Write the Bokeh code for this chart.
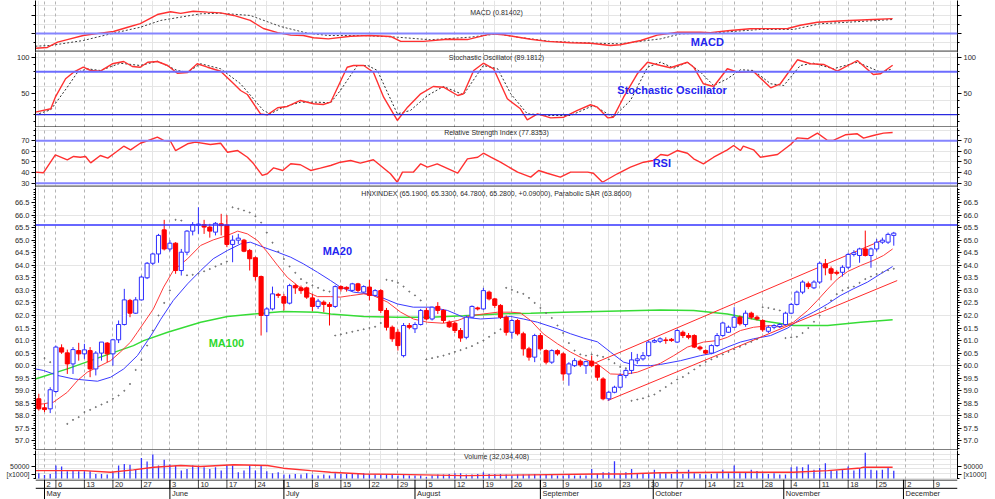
import numpy as np
from bokeh.plotting import figure
from bokeh.models import (Range1d, Span, Label, LinearAxis, FixedTicker, Grid,
                          PrintfTickFormatter, ColumnDataSource)
from bokeh.layouts import column
from bokeh.embed import file_html
from bokeh.resources import INLINE
from bokeh.core.properties import value

# ---------------- data (trading-day index: 0 = 26 Apr 2013 ... 150 = 28 Nov 2013) -------------
week_idx = [1, 3, 8, 13, 18, 23, 28, 33, 38, 43, 48, 53, 58, 63, 68, 73, 78, 83, 88, 92, 97,
            102, 107, 112, 117, 122, 127, 132, 137, 142, 147, 152, 157]
week_labels = ["2", "6", "13", "20", "27", "3", "10", "17", "24", "1", "8", "15", "22", "29",
               "5", "12", "19", "26", "3", "9", "16", "23", "30", "7", "14", "21", "28",
               "4", "11", "18", "25", "2", "9"]
month_idx = [1, 23, 43, 66, 88, 107.8, 130.7, 151.7]
month_labels = ["May", "June", "July", "August", "September", "October", "November", "December"]

opens = [58.68, 58.32, 58.28, 58.97, 60.71, 60.51, 60.07, 60.60, 60.47, 60.60,
         59.87, 60.50, 60.90, 60.47, 61.03, 61.64, 62.60, 62.09, 62.62, 63.50,
         64.08, 64.45, 65.41, 64.65, 64.88, 63.79, 64.52, 65.36, 65.60, 65.62,
         65.52, 65.32, 65.65, 65.60, 64.83, 65.00, 65.00, 64.59, 64.30, 63.55,
         62.00, 62.26, 62.84, 62.75, 62.49, 63.19, 63.10, 63.10, 62.70, 62.36,
         62.53, 62.44, 62.36, 63.15, 63.12, 63.00, 63.26, 62.93, 63.13, 62.80,
         62.99, 62.20, 61.53, 61.33, 60.40, 61.60, 61.47, 61.64, 62.20, 61.86,
         62.36, 62.20, 61.73, 61.69, 61.40, 61.13, 61.93, 62.30, 62.26, 62.93,
         62.66, 62.40, 61.93, 61.33, 61.80, 61.27, 60.67, 60.34, 61.20, 60.60,
         60.14, 60.60, 60.47, 59.67, 60.00, 60.18, 60.00, 60.18, 60.00, 59.47,
         58.68, 58.94, 59.14, 59.61, 59.81, 60.20, 60.27, 60.40, 60.94, 60.97,
         61.02, 61.05, 60.94, 61.33, 61.20, 61.20, 60.74, 60.60, 60.50, 60.80,
         61.20, 61.33, 61.53, 61.93, 61.64, 62.09, 61.93, 61.80, 61.37, 61.53,
         61.56, 61.64, 62.09, 62.44, 62.93, 63.26, 63.10, 63.33, 64.06, 63.86,
         63.72, 63.72, 63.92, 64.43, 64.39, 64.65, 64.39, 64.65, 64.92, 64.92, 65.19]
highs = [58.88, 58.48, 59.14, 60.80, 60.85, 60.64, 60.74, 60.91, 60.87, 60.74,
         60.58, 60.94, 60.94, 61.07, 61.80, 63.06, 62.66, 62.73, 63.59, 64.13,
         64.50, 65.25, 65.81, 65.00, 64.92, 64.65, 65.40, 65.72, 66.31, 65.81,
         65.65, 65.72, 66.05, 66.00, 65.19, 65.25, 65.05, 64.65, 64.35, 63.59,
         62.33, 63.15, 62.90, 62.86, 63.26, 63.26, 63.19, 63.15, 62.86, 62.66,
         62.60, 62.53, 63.20, 63.20, 63.16, 63.30, 63.30, 63.20, 63.42, 63.05,
         63.05, 62.30, 61.60, 61.45, 61.70, 61.70, 61.73, 62.26, 62.30, 62.36,
         62.53, 62.25, 61.80, 61.75, 61.50, 62.00, 62.40, 62.35, 63.10, 62.99,
         62.70, 62.45, 62.00, 61.87, 61.86, 61.35, 60.75, 61.27, 61.30, 60.65,
         60.65, 60.65, 60.53, 60.14, 60.30, 60.25, 60.20, 60.40, 60.05, 59.54,
         59.00, 59.20, 59.70, 59.87, 60.54, 60.47, 60.54, 61.00, 61.07, 61.13,
         61.13, 61.10, 61.45, 61.40, 61.30, 61.25, 60.80, 60.65, 60.85, 61.30,
         61.75, 61.60, 62.33, 62.00, 62.20, 62.15, 62.00, 61.85, 61.60, 61.65,
         61.70, 62.15, 62.50, 62.99, 63.40, 63.35, 63.40, 64.15, 64.25, 63.95,
         63.80, 64.00, 64.50, 64.60, 64.70, 65.38, 64.70, 65.05, 65.10, 65.30, 65.33]
lows = [58.21, 58.15, 58.11, 58.90, 60.47, 59.67, 59.67, 60.20, 60.27, 59.54,
        59.61, 60.20, 60.14, 60.00, 60.90, 61.60, 61.93, 62.06, 62.60, 63.45,
        64.00, 64.10, 64.59, 64.55, 63.66, 63.59, 64.40, 65.19, 65.25, 65.25,
        65.10, 65.19, 65.19, 64.72, 64.12, 64.85, 64.52, 63.79, 63.39, 61.20,
        61.33, 62.20, 62.70, 62.20, 62.44, 62.86, 62.86, 62.66, 62.17, 62.26,
        62.13, 61.60, 62.30, 62.95, 62.95, 62.95, 62.93, 62.90, 62.60, 62.75,
        62.10, 61.40, 60.95, 60.60, 60.33, 61.45, 61.30, 61.60, 61.80, 61.80,
        62.06, 61.70, 61.50, 61.30, 60.95, 61.05, 61.90, 62.20, 62.22, 62.60,
        62.30, 61.86, 61.20, 61.07, 61.20, 60.40, 60.20, 60.14, 60.60, 60.05,
        60.07, 60.40, 59.40, 59.20, 59.95, 59.95, 59.67, 59.94, 59.40, 58.62,
        58.60, 58.90, 59.10, 59.50, 59.67, 60.07, 60.20, 60.35, 60.90, 60.90,
        60.87, 60.95, 60.90, 61.10, 61.05, 60.70, 60.60, 60.45, 60.45, 60.75,
        61.15, 61.30, 61.50, 61.60, 61.55, 61.85, 61.80, 61.35, 61.30, 61.45,
        61.50, 61.60, 62.05, 62.40, 62.85, 63.05, 63.05, 63.25, 63.60, 63.40,
        63.60, 63.55, 63.85, 64.35, 64.10, 64.35, 63.90, 64.55, 64.85, 64.85, 64.78]
closes = [58.28, 58.25, 59.04, 60.74, 60.54, 60.07, 60.64, 60.47, 60.63, 59.87,
          60.50, 60.94, 60.47, 61.03, 61.64, 62.62, 62.09, 62.62, 63.53, 64.08,
          64.45, 65.19, 64.65, 64.88, 63.79, 64.52, 65.36, 65.62, 65.64, 65.52,
          65.36, 65.67, 65.58, 64.83, 65.00, 65.08, 64.56, 64.26, 63.55, 62.00,
          62.26, 62.86, 62.80, 62.49, 63.19, 63.10, 62.99, 62.73, 62.36, 62.57,
          62.44, 62.36, 63.15, 63.06, 63.06, 63.26, 63.00, 63.15, 62.80, 62.99,
          62.20, 61.53, 61.07, 60.80, 61.60, 61.53, 61.64, 62.20, 61.86, 62.33,
          62.20, 61.80, 61.55, 61.40, 61.10, 61.93, 62.36, 62.26, 62.99, 62.66,
          62.40, 61.93, 61.33, 61.80, 61.27, 60.67, 60.34, 61.20, 60.67, 60.14,
          60.60, 60.47, 59.67, 60.07, 60.20, 60.03, 60.16, 60.00, 59.54, 58.68,
          58.94, 59.14, 59.61, 59.81, 60.23, 60.27, 60.40, 60.94, 61.00, 61.07,
          61.00, 61.00, 61.40, 61.20, 61.13, 60.74, 60.67, 60.50, 60.80, 61.20,
          61.70, 61.53, 61.93, 61.67, 62.09, 61.93, 61.86, 61.43, 61.53, 61.60,
          61.64, 62.09, 62.44, 62.93, 63.33, 63.15, 63.33, 64.08, 63.90, 63.68,
          63.68, 63.92, 64.43, 64.50, 64.65, 64.39, 64.65, 64.92, 65.00, 65.23, 65.28]
# volume in thousands of shares
volume = [22000, 15000, 19000, 54000, 50000, 30000, 33000, 30000, 30000, 30000,
          19000, 19000, 17000, 26000, 54000, 60000, 57000, 36000, 85000, 71000,
          100000, 54000, 78000, 58000, 54000, 33000, 40000, 54000, 50000, 47000,
          40000, 47000, 33000, 54000, 54000, 26000, 33000, 54000, 33000, 54000,
          30000, 22000, 26000, 17000, 17000, 19000, 17000, 22000, 17000, 12000,
          17000, 12000, 22000, 19000, 19000, 19000, 19000, 22000, 19000, 17000,
          17000, 17000, 17000, 12000, 17000, 12000, 12000, 12000, 6000, 12000,
          17000, 17000, 19000, 22000, 22000, 17000, 17000, 19000, 26000, 19000,
          19000, 19000, 17000, 12000, 17000, 17000, 17000, 19000, 17000, 17000,
          17000, 12000, 12000, 17000, 12000, 12000, 12000, 40000, 19000, 26000,
          26000, 72000, 19000, 26000, 40000, 22000, 19000, 19000, 36000, 22000,
          22000, 19000, 36000, 19000, 36000, 22000, 19000, 17000, 19000, 22000,
          36000, 22000, 54000, 22000, 26000, 36000, 31000, 22000, 19000, 22000,
          17000, 17000, 47000, 50000, 47000, 58000, 36000, 44000, 64000, 33000,
          33000, 36000, 50000, 33000, 44000, 107000, 36000, 33000, 36000, 47000, 32034]

vol_ma_i = [-0.6, 7.9, 12.6, 16.6, 20.2, 24.9, 28.4, 34.2, 40.1, 42.9, 47.7, 51.2, 57.0,
            62.9, 74.5, 86.3, 98.0, 102.6, 109.1, 120.8, 132.4, 138.4, 144.2, 144.7, 149.8]
vol_ma_v = [33000, 33000, 26000, 36000, 47000, 54000, 50000, 57000, 54000, 43000, 33000,
            26000, 19000, 17000, 12000, 15000, 19000, 19000, 24000, 26000, 26000, 33000,
            44000, 47000, 47000]

ma10_i = [-0.6, 0.8, 2.6, 5.0, 6.8, 8.5, 10.3, 12.6, 14.3, 16.1, 17.3, 20.1, 21.9, 23.6, 26.1,
          28.4, 30.6, 33.1, 34.9, 36.6, 38.4, 40.1, 41.9, 43.6, 45.4, 47.1, 48.9, 51.2, 52.9,
          54.7, 57.0, 58.7, 61.2, 63.5, 65.7, 68.2, 71.0, 73.5, 75.7, 78.0, 80.5, 82.8, 84.5,
          86.3, 88.5, 91.0, 93.3, 95.6, 98.0, 100.3, 102.6, 105.0, 107.3, 109.1, 111.4, 113.8,
          116.6, 119.1, 120.8, 123.1, 125.4, 128.4, 130.1, 132.4, 134.9, 136.6, 138.4, 140.1,
          141.9, 144.2, 146.4, 148.2, 149.8]
ma10_v = [58.45, 58.48, 58.55, 58.94, 59.41, 59.74, 59.94, 60.20, 60.54, 60.94, 61.33, 62.26,
          63.13, 63.79, 64.26, 64.79, 65.01, 65.19, 65.36, 65.25, 64.98, 64.52, 63.99, 63.52,
          63.19, 62.93, 62.75, 62.75, 62.73, 62.79, 62.86, 62.79, 62.53, 62.13, 61.86, 61.73,
          61.69, 61.80, 61.99, 62.06, 62.13, 62.13, 62.10, 61.80, 61.27, 60.87, 60.54, 60.27,
          60.07, 59.67, 59.65, 59.74, 59.94, 60.10, 60.40, 60.74, 60.94, 61.00, 61.13, 61.40,
          61.53, 61.60, 61.53, 61.73, 62.20, 62.60, 63.05, 63.45, 63.75, 63.99, 64.19, 64.39,
          64.65]

ma20_i = [-0.6, 0.8, 3.3, 6.1, 10.3, 12.6, 14.9, 17.3, 19.1, 20.1, 21.4, 23.6, 26.1, 28.4,
          30.6, 33.1, 35.4, 37.1, 39.4, 41.9, 44.2, 46.4, 48.9, 51.2, 52.9, 55.2, 57.7, 60.0,
          62.9, 65.7, 68.7, 71.7, 74.5, 77.5, 80.5, 82.8, 85.0, 87.5, 91.0, 93.3, 95.6, 98.0,
          100.3, 102.6, 105.0, 107.3, 109.1, 112.6, 116.1, 118.4, 120.8, 123.1, 125.4, 128.4,
          131.4, 133.6, 135.9, 138.4, 140.6, 142.9, 145.4, 147.7, 149.8]
ma20_v = [59.87, 59.81, 59.61, 59.47, 59.38, 59.54, 59.87, 60.40, 61.00, 61.35, 61.85, 62.60,
          63.26, 63.79, 64.26, 64.59, 64.85, 64.92, 64.72, 64.52, 64.32, 64.06, 63.72, 63.39,
          63.13, 62.93, 62.86, 62.73, 62.46, 62.33, 62.33, 62.20, 61.93, 61.86, 61.90, 61.96,
          61.86, 61.73, 61.47, 61.27, 61.10, 60.95, 60.54, 60.14, 60.00, 60.00, 60.05, 60.20,
          60.40, 60.50, 60.74, 60.94, 61.07, 61.20, 61.50, 61.86, 62.13, 62.46, 62.79, 63.06,
          63.33, 63.66, 63.95]

ma100_i = [-0.6, 5.0, 10.8, 16.6, 18.4, 22.6, 28.4, 33.1, 37.7, 42.9, 48.9, 51.2, 57.0, 62.9,
           68.7, 74.5, 80.5, 86.3, 92.1, 98.0, 109.1, 114.9, 120.8, 126.6, 132.4, 138.4, 144.2,
           149.8]
ma100_v = [59.47, 59.87, 60.34, 60.80, 61.00, 61.33, 61.73, 61.96, 62.06, 62.16, 62.13, 62.06,
           61.96, 61.93, 61.93, 61.99, 62.06, 62.09, 62.13, 62.16, 62.22, 62.20, 62.06, 61.80,
           61.60, 61.60, 61.73, 61.83]

sar_i = [1, 2, 5, 6, 7, 8, 9, 10, 11, 12, 13, 14, 15, 16, 17, 18, 19, 20, 21, 22, 23, 24, 25,
         26, 27, 28, 29, 30, 31, 32, 33, 34, 35, 36, 37, 38, 39, 40, 41, 42, 43, 44, 45, 46, 47,
         48, 49, 50, 51, 52, 53, 54, 55, 56, 57, 58, 59, 60, 61, 62, 63, 64, 65, 66, 67, 68, 69,
         70, 71, 72, 73, 74, 75, 76, 77, 78, 79, 80, 81, 82, 83, 84, 85, 86, 87, 88, 89, 90, 91,
         92, 93, 94, 95, 96, 97, 98, 99, 100, 101, 102, 103, 104, 105, 106, 107, 108, 109, 110,
         111, 112, 113, 114, 115, 116, 117, 118, 119, 120, 121, 122, 123, 124, 125, 126, 127,
         128, 129, 130, 131, 132, 133, 134, 135, 136, 137, 138, 139, 140, 141, 142, 143, 144,
         145, 146, 147, 148, 149, 150]
sar_v = [60.30, 60.14, 57.68, 57.84, 57.95, 58.15, 58.24, 58.35, 58.45, 58.55, 58.68, 58.81,
         59.00, 59.27, 59.83, 60.23, 60.80, 61.40, 62.00, 62.50, 63.00, 65.81, 65.78, 63.60,
         63.62, 63.67, 63.76, 63.85, 63.95, 64.05, 64.15, 66.31, 66.25, 66.18, 66.10, 65.95,
         65.70, 65.30, 64.90, 64.55, 64.25, 63.95, 63.70, 63.45, 63.30, 63.20, 63.10, 63.00,
         62.95, 61.20, 61.25, 61.30, 61.35, 61.40, 61.45, 61.50, 61.55, 61.70, 63.42, 63.38,
         63.30, 63.15, 62.95, 62.80, 62.60, 60.25, 60.30, 60.35, 60.40, 60.47, 60.55, 60.62,
         60.70, 60.78, 60.90, 61.00, 61.15, 61.30, 61.45, 63.10, 63.02, 62.93, 62.86, 62.70,
         62.50, 62.30, 62.10, 61.90, 61.60, 61.30, 60.90, 60.60, 60.45, 60.40, 60.45, 60.40,
         60.35, 60.25, 60.10, 59.95, 59.90, 58.60, 58.65, 58.70, 58.78, 58.85, 59.00, 59.15,
         59.30, 59.45, 59.55, 59.70, 59.85, 60.00, 60.15, 60.25, 60.35, 60.45, 60.55, 60.65,
         60.75, 60.85, 60.95, 61.05, 62.33, 62.30, 62.25, 62.20, 61.10, 61.13, 61.15, 61.30,
         61.50, 61.75, 62.00, 62.30, 62.60, 62.85, 63.00, 63.10, 63.15, 63.30, 63.45, 63.55,
         63.65, 63.72, 63.80, 63.86]

chan_up_i = [97.5, 148.0]
chan_up_v = [60.10, 65.00]
chan_lo_i = [99.8, 150.6]
chan_lo_v = [58.61, 63.39]
resistance_level = 65.6

macd_i = [-0.6, 1.5, 3.3, 5.0, 7.8, 10.8, 13.1, 15.6, 17.8, 20.8, 23.1, 24.9, 27.1, 29.6, 31.9,
          34.2, 37.1, 39.4, 41.9, 44.2, 46.4, 48.2, 50.8, 54.7, 58.2, 61.7, 63.5, 67.5, 71.7,
          75.2, 79.3, 81.5, 86.3, 89.2, 93.3, 96.8, 100.3, 102.0, 105.6, 108.5, 112.1, 116.1,
          117.8, 121.3, 124.8, 131.4, 133.6, 136.6, 141.2, 146.4, 149.8]
macd_v = [-0.80, -0.76, -0.47, -0.33, -0.11, 0.02, 0.11, 0.34, 0.54, 1.03, 1.18, 1.09, 1.21,
          1.16, 1.12, 0.98, 0.71, 0.27, 0.05, -0.09, -0.11, -0.23, -0.29, -0.15, -0.11, -0.16,
          -0.43, -0.43, -0.31, -0.33, -0.02, -0.07, -0.31, -0.43, -0.50, -0.53, -0.65, -0.61,
          -0.38, -0.09, 0.07, 0.07, 0.05, 0.16, 0.26, 0.27, 0.45, 0.61, 0.69, 0.76, 0.81]
signal_i = [-0.6, 2.1, 7.8, 12.6, 17.8, 21.4, 28.4, 31.9, 37.1, 42.4, 47.1, 50.8, 57.0, 62.9,
            68.7, 75.7, 80.5, 84.0, 89.8, 98.0, 102.0, 109.1, 112.6, 117.8, 126.6, 132.4,
            137.1, 141.9, 149.8]
signal_v = [-0.69, -0.65, -0.38, -0.02, 0.34, 0.71, 1.07, 1.10, 0.98, 0.38, 0.02, -0.11, -0.11,
            -0.20, -0.34, -0.20, -0.02, -0.20, -0.43, -0.53, -0.56, -0.29, -0.02, 0.02, 0.22,
            0.22, 0.53, 0.61, 0.76]

stk_i = [-0.6, 2.1, 2.9, 4.7, 6.1, 7.8, 9.1, 10.8, 12.9, 14.9, 16.4, 17.8, 19.1, 20.8, 22.6,
         24.3, 26.1, 27.8, 29.6, 31.9, 34.2, 35.4, 36.6, 38.9, 40.1, 41.9, 43.6, 45.9, 48.2,
         49.9, 51.2, 54.1, 55.2, 57.0, 58.7, 60.5, 62.9, 64.7, 67.0, 69.2, 71.0, 73.5, 74.5,
         76.3, 78.0, 79.8, 82.2, 84.5, 85.7, 87.5, 89.8, 92.1, 94.5, 96.8, 98.0, 99.8, 100.8,
         102.6, 105.0, 106.8, 109.1, 110.8, 113.8, 114.9, 116.6, 118.4, 120.8, 122.6, 125.4,
         128.4, 130.1, 133.1, 135.4, 137.7, 140.1, 143.6, 146.4, 147.7, 149.8]
stk_v = [23.4, 28.2, 44.4, 70.2, 79.4, 86.4, 81.8, 80.8, 91.2, 94.4, 87.4, 86.4, 93.4, 94.4,
         88.8, 78.0, 79.0, 91.2, 86.4, 80.8, 63.2, 53.8, 48.2, 21.1, 19.7, 29.6, 31.4, 39.8,
         35.2, 34.2, 37.4, 86.4, 88.8, 88.8, 79.4, 44.4, 11.8, 30.4, 49.2, 59.4, 58.4, 46.8,
         49.2, 81.8, 92.0, 84.2, 42.2, 28.2, 12.7, 21.1, 15.5, 16.4, 25.8, 33.8, 30.4, 15.5,
         16.4, 44.4, 77.2, 93.4, 88.8, 85.6, 93.4, 86.4, 63.2, 59.4, 84.2, 79.4, 80.4, 57.6,
         63.2, 96.8, 91.2, 90.2, 80.8, 95.8, 76.2, 77.2, 89.2]
std_i = [-0.6, 2.1, 5.0, 6.8, 8.5, 10.8, 14.3, 17.8, 20.8, 24.3, 26.1, 28.4, 31.9, 35.4, 39.4,
         40.6, 42.9, 45.9, 48.9, 51.2, 52.9, 55.9, 57.7, 59.4, 62.9, 65.2, 68.2, 71.0, 74.5,
         78.0, 80.5, 82.8, 85.7, 89.8, 93.3, 97.3, 100.8, 103.8, 106.8, 109.1, 111.4, 113.8,
         116.1, 118.4, 120.8, 123.1, 125.4, 128.4, 130.7, 133.6, 135.9, 139.4, 143.6, 147.7,
         149.8]
std_v = [19.7, 26.8, 58.4, 79.4, 84.2, 81.8, 92.0, 88.8, 94.8, 81.8, 79.4, 91.2, 84.2, 63.2,
         25.8, 21.1, 30.4, 37.4, 37.4, 36.6, 53.8, 88.8, 88.8, 81.8, 21.1, 25.8, 46.8, 59.4,
         47.8, 88.8, 84.2, 49.2, 21.1, 18.8, 18.8, 32.8, 16.4, 39.8, 86.4, 93.4, 85.0, 93.4,
         79.4, 60.8, 70.2, 82.8, 81.8, 63.2, 60.8, 88.8, 92.0, 84.2, 93.4, 79.4, 84.2]

rsi_i = [-0.6, 0.8, 2.9, 5.0, 6.1, 7.3, 8.2, 9.1, 10.8, 12.1, 13.5, 14.9, 16.1, 17.8, 19.2,
         20.8, 21.9, 23.1, 24.0, 26.1, 27.5, 30.1, 31.9, 33.1, 34.9, 36.6, 37.7, 39.2, 40.1,
         41.2, 42.8, 44.2, 45.9, 47.7, 49.4, 51.2, 52.9, 54.7, 56.4, 58.7, 61.7, 62.9, 63.8,
         65.7, 67.0, 68.2, 69.9, 73.5, 75.2, 77.0, 78.0, 79.3, 81.0, 84.0, 86.3, 87.7, 89.2,
         91.5, 93.3, 96.3, 97.3, 98.9, 101.5, 103.8, 106.1, 107.8, 109.1, 110.3, 112.0, 113.8,
         114.9, 116.6, 118.4, 120.8, 121.9, 123.1, 123.6, 125.4, 126.6, 129.6, 131.9, 133.1,
         134.9, 136.6, 138.4, 139.4, 141.5, 143.6, 144.7, 146.4, 148.2, 149.8]
rsi_v = [40.4, 39.8, 56.8, 52.1, 55.2, 54.5, 55.2, 49.2, 56.1, 53.6, 59.2, 64.9, 61.5, 67.7,
         70.3, 73.4, 70.3, 69.6, 60.8, 67.2, 68.7, 66.5, 67.7, 59.2, 60.8, 54.5, 48.3, 37.3,
         38.9, 44.5, 42.0, 48.3, 47.4, 42.0, 44.2, 46.7, 49.8, 51.4, 48.9, 52.1, 38.9, 30.9,
         40.4, 40.4, 48.3, 45.1, 48.3, 39.4, 53.0, 54.5, 58.3, 54.5, 49.8, 40.4, 35.7, 42.0,
         39.4, 35.7, 40.4, 40.4, 39.4, 30.9, 38.9, 45.1, 49.8, 51.4, 57.1, 56.1, 60.8, 58.3,
         53.0, 48.3, 54.5, 61.5, 65.6, 60.8, 64.9, 61.5, 54.5, 57.1, 66.5, 72.8, 71.9, 77.2,
         70.3, 70.3, 75.7, 76.6, 72.5, 75.0, 77.2, 77.8]

price_ticks = [57.0, 57.5, 58.0, 58.5, 59.0, 59.5, 60.0, 60.5, 61.0, 61.5, 62.0, 62.5, 63.0,
               63.5, 64.0, 64.5, 65.0, 65.5, 66.0, 66.5]
stoch_ticks = [50, 100]
rsi_ticks = [30, 40, 50, 60, 70]
vol_ticks = [16667, 50000]
vol_tick_labels = {16667: "[x1000]", 50000: "50000"}

# ---------------- layout helpers ----------------
W, LB, RB = 995, 35, 38
XR = Range1d(-0.58, 161.18)
SANS = "Liberation Sans"
TXT = "#2a2a2a"


def px_val(lo, hi, h, py):
    return hi - py / h * (hi - lo)


def panel(h, lo, hi):
    p = figure(width=W, height=h, x_range=XR, y_range=Range1d(lo, hi),
               output_backend="svg", toolbar_location=None, tools="",
               min_border_left=LB, min_border_right=RB, min_border_top=0, min_border_bottom=0,
               x_axis_location=None, y_axis_location=None)
    p.outline_line_color = None
    p.background_fill_color = "white"
    p.border_fill_color = "white"
    p.add_layout(Grid(dimension=0, ticker=FixedTicker(ticks=week_idx),
                      grid_line_color="#b4b4b4", grid_line_dash="3 3", grid_line_width=1))
    return p


def yaxes(p, ticks, minor, fmt=None, hide=False, overrides=None, size="7.5px"):
    for side in ("left", "right"):
        ax = LinearAxis(ticker=FixedTicker(ticks=ticks, minor_ticks=minor))
        if fmt:
            ax.formatter = PrintfTickFormatter(format=fmt)
        if overrides:
            ax.major_label_overrides = overrides
        ax.axis_line_color = "black"
        ax.axis_line_width = 1
        ax.major_tick_line_color = "black"
        ax.minor_tick_line_color = "black"
        ax.major_tick_out = 4
        ax.major_tick_in = 0
        ax.minor_tick_out = 2
        ax.minor_tick_in = 0
        ax.major_label_standoff = 2
        ax.major_label_text_font = SANS
        ax.major_label_text_font_size = size
        ax.major_label_text_color = TXT
        if hide:
            ax.major_label_text_alpha = 0
        p.add_layout(ax, side)


def title(p, y, text):
    p.add_layout(Label(x=80.3, y=y, text=text, text_align="center", text_baseline="middle",
                       text_font=SANS, text_font_size="7px", text_color=TXT))


def tag(p, x, y, text, color):
    p.add_layout(Label(x=x, y=y, text=text, text_align="left", text_baseline="middle",
                       text_font=SANS, text_font_size="11px", text_font_style="bold",
                       text_color=color))


BLUE_TXT = "#2424f0"

# ---------------- MACD ----------------
H1, L1, U1 = 52, -1.032, 1.792
p1 = panel(H1, L1, U1)
yaxes(p1, [0, 1], [-0.5, 0.5, 1.5], hide=True)
p1.add_layout(Span(location=0, dimension="width", line_color="#8585ff", line_width=2))
p1.line(signal_i, signal_v, line_color="#404040", line_width=1, line_dash="2 2")
p1.line(macd_i, macd_v, line_color="#ff3030", line_width=1.4)
title(p1, px_val(L1, U1, H1, 12), "MACD (0.81402)")
tag(p1, 114.4, px_val(L1, U1, H1, 41), "MACD", BLUE_TXT)
p1.add_layout(Span(location=px_val(L1, U1, H1, 51), dimension="width",
                   line_color="#8c8c8c", line_width=2.5))

# ---------------- Stochastic ----------------
H2, L2, U2 = 75, 1.96, 107.0
p2 = panel(H2, L2, U2)
yaxes(p2, stoch_ticks, [10, 20, 30, 40, 60, 70, 80, 90], fmt="%d")
p2.add_layout(Span(location=80, dimension="width", line_color="#6c6cff", line_width=2))
p2.add_layout(Span(location=20, dimension="width", line_color="#2a2ae0", line_width=1.4))
p2.line(std_i, std_v, line_color="#303030", line_width=1, line_dash="2 2")
p2.line(stk_i, stk_v, line_color="#ff3030", line_width=1.4)
title(p2, px_val(L2, U2, H2, 5), "Stochastic Oscillator (89.1812)")
tag(p2, 101.5, px_val(L2, U2, H2, 37), "Stochastic Oscillator", BLUE_TXT)
p2.add_layout(Span(location=px_val(L2, U2, H2, 74.5), dimension="width",
                   line_color="black", line_width=1))

# ---------------- RSI ----------------
H3, L3, U3 = 60, 25.94, 82.55
p3 = panel(H3, L3, U3)
yaxes(p3, rsi_ticks, [35, 45, 55, 65, 75, 80], fmt="%d")
p3.add_layout(Span(location=70, dimension="width", line_color="#8585ff", line_width=2))
p3.add_layout(Span(location=30, dimension="width", line_color="#8585ff", line_width=2))
p3.line(rsi_i, rsi_v, line_color="#ff3030", line_width=1.4)
title(p3, px_val(L3, U3, H3, 5), "Relative Strength Index (77.8353)")
tag(p3, 107.7, px_val(L3, U3, H3, 35), "RSI", BLUE_TXT)
p3.add_layout(Span(location=px_val(L3, U3, H3, 59), dimension="width",
                   line_color="#8c8c8c", line_width=2.5))

# ---------------- Price ----------------
H4, L4, U4 = 263, 56.62, 67.098
p4 = panel(H4, L4, U4)
minor_price = [round(57.0 + 0.1 * k, 1) for k in range(-3, 101)]
yaxes(p4, price_ticks, minor_price, fmt="%.1f")
p4.add_layout(Span(location=resistance_level, dimension="width", line_color="#3535ff",
                   line_width=1.5))
p4.line(ma100_i, ma100_v, line_color="#36dc36", line_width=1.4)
p4.line(ma20_i, ma20_v, line_color="#3a3aff", line_width=1)
p4.line(ma10_i, ma10_v, line_color="#ff3a3a", line_width=1)
p4.line(chan_up_i, chan_up_v, line_color="#ff2a2a", line_width=1)
p4.line(chan_lo_i, chan_lo_v, line_color="#ff2a2a", line_width=1)
p4.scatter(sar_i, sar_v, size=1.1, color="#707070", marker="circle")

idx = list(range(len(closes)))
up = [c >= o for o, c in zip(opens, closes)]
top = [max(o, c) for o, c in zip(opens, closes)]
bot = [min(o, c) for o, c in zip(opens, closes)]
top = [t if t - b >= 0.025 else b + 0.025 for t, b in zip(top, bot)]
csrc = ColumnDataSource(dict(x=idx, h=highs, l=lows, top=top, bot=bot,
                             fill=["white" if u else "#ff0000" for u in up],
                             line=["#2d2dff" if u else "#ff0000" for u in up]))
p4.segment(x0="x", y0="l", x1="x", y1="h", line_color="line", line_width=1, source=csrc)
p4.vbar(x="x", width=0.72, top="top", bottom="bot", fill_color="fill", line_color="line",
        line_width=1, source=csrc)
title(p4, px_val(L4, U4, H4, 5.5),
      "HNXINDEX (65.1900, 65.3300, 64.7800, 65.2800, +0.09000), Parabolic SAR (63.8600)")
tag(p4, 49.8, 64.55, "MA20", BLUE_TXT)
tag(p4, 29.8, 60.92, "MA100", "#2ed82e")
p4.add_layout(Span(location=px_val(L4, U4, H4, 262.4), dimension="width",
                   line_color="#555555", line_width=1.5))

# ---------------- Volume ----------------
H5, L5, U5 = 29, -4167, 116667
p5 = panel(H5, L5, U5)
yaxes(p5, vol_ticks, [0, 100000], overrides=vol_tick_labels, size="7px")
p5.segment(x0=idx, y0=[0] * len(idx), x1=idx, y1=volume, line_color="#3434ff", line_width=1.3)
p5.line(vol_ma_i, vol_ma_v, line_color="#ff3030", line_width=1.4)
title(p5, px_val(L5, U5, H5, 6), "Volume (32,034,408)")

# ---------------- date strip ----------------
H6 = 20
p6 = figure(width=W, height=H6, x_range=XR, y_range=Range1d(0, 20), output_backend="svg",
            toolbar_location=None, tools="", min_border_left=LB, min_border_right=RB,
            min_border_top=0, min_border_bottom=0, x_axis_location=None, y_axis_location=None)
p6.outline_line_color = None
p6.grid.visible = False
p6.add_layout(Span(location=19.5, dimension="width", line_color="black", line_width=1))
p6.add_layout(Span(location=11.2, dimension="width", line_color="black", line_width=1))
p6.segment(x0=week_idx, y0=[20] * len(week_idx), x1=week_idx, y1=[11.2] * len(week_idx),
           line_color="#444444", line_width=1)
p6.segment(x0=month_idx, y0=[20] * len(month_idx), x1=month_idx, y1=[0] * len(month_idx),
           line_color="black", line_width=1)
p6.text(x=[w + 0.35 for w in week_idx], y=[15.2] * len(week_idx), text=week_labels,
        text_font=value(SANS), text_font_size="7.5px", text_color=TXT,
        text_align="left", text_baseline="middle")
p6.text(x=[m + 0.35 for m in month_idx], y=[5.6] * len(month_idx), text=month_labels,
        text_font=value(SANS), text_font_size="7.5px", text_color=TXT,
        text_align="left", text_baseline="middle")

layout = column(p1, p2, p3, p4, p5, p6, spacing=0)
open("out.html", "w").write(file_html(layout, INLINE))
